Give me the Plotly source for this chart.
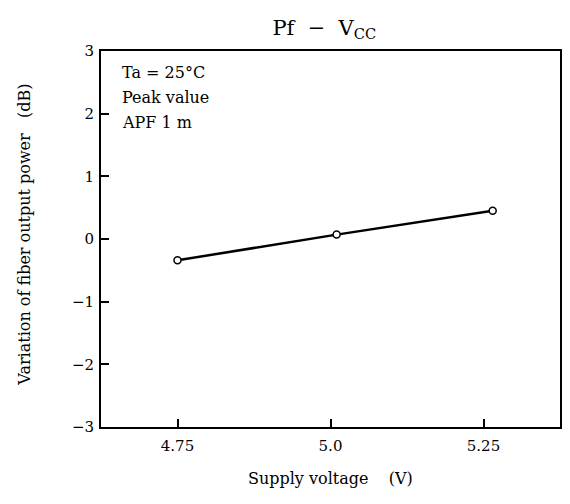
import plotly.graph_objects as go

supply_voltage = [4.75, 5.01, 5.265]
variation_db = [-0.34, 0.07, 0.45]
x_tick_vals = [4.75, 5.0, 5.25]
x_tick_text = ["4.75", "5.0", "5.25"]
y_tick_vals = [-3, -2, -1, 0, 1, 2, 3]
y_tick_text = ["−3", "−2", "−1", "0", "1", "2", "3"]
notes = ["Ta = 25°C", "Peak value", "APF 1 m"]

font = "DejaVu Serif, Liberation Serif, serif"

fig = go.Figure()
fig.add_trace(go.Scatter(
    x=supply_voltage, y=variation_db, mode="lines+markers",
    line=dict(color="black", width=2.5),
    marker=dict(symbol="circle", size=7, color="white", line=dict(color="black", width=1.5)),
    showlegend=False,
))

fig.update_layout(
    width=570, height=504,
    margin=dict(l=93, r=18, t=43, b=85),
    paper_bgcolor="white", plot_bgcolor="white",
    font=dict(family=font, color="black", size=15),
    title=dict(text="Pf  −  V<sub>CC</sub>", x=0.555, xanchor="center", y=0.962, yanchor="middle",
               font=dict(size=21, family=font)),
)
fig.update_xaxes(
    range=[4.625, 5.375], tickvals=x_tick_vals, ticktext=x_tick_text,
    ticks="inside", ticklen=8, tickwidth=1.5, tickcolor="black",
    showline=True, linecolor="black", linewidth=2, mirror=True,
    showgrid=False, zeroline=False, ticklabelstandoff=4,
    tickfont=dict(size=15, family=font),
)
fig.update_yaxes(
    range=[-3, 3], tickvals=y_tick_vals, ticktext=y_tick_text,
    ticks="inside", ticklen=8, tickwidth=1.5, tickcolor="black",
    showline=True, linecolor="black", linewidth=2, mirror=True,
    showgrid=False, zeroline=False, ticklabelstandoff=2,
    tickfont=dict(size=15, family=font),
)
fig.add_annotation(xref="paper", yref="paper", x=0.499, y=-0.136,
                   text="Supply voltage    (V)", showarrow=False,
                   xanchor="center", yanchor="middle", font=dict(size=16, family=font))
fig.add_annotation(xref="paper", yref="paper", x=-0.166, y=0.511,
                   text="Variation of fiber output power   (dB)", showarrow=False, textangle=-90,
                   xanchor="center", yanchor="middle", font=dict(size=16, family=font))
for i, t in enumerate(notes):
    fig.add_annotation(xref="paper", yref="paper", x=0.041, y=0.944 - i * 0.067,
                       text=t, showarrow=False, xanchor="left", yanchor="middle",
                       font=dict(size=16, family=font))

fig.write_html("out.html")
